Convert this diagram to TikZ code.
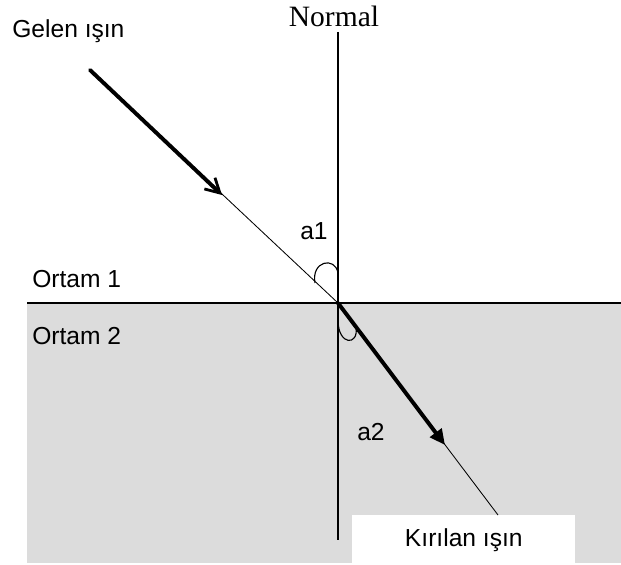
\documentclass[tikz,border=0pt]{standalone}
\usepackage{fontspec}
\setmainfont{Liberation Sans}
\newfontfamily\normfont{Liberation Serif}
\usepackage{xcolor}
\usepackage{tikz}
\usetikzlibrary{arrows.meta}
\definecolor{figline}{RGB}{0,0,0}
\definecolor{figmedium}{RGB}{220,220,220}
\tikzset{
  ax/.style    ={draw=figline, line width=1.1pt},
  rayt/.style  ={draw=figline, line width=0.6pt},
  rayb/.style  ={draw=figline, line width=2.8pt, line cap=round},
  ang/.style   ={draw=figline, line width=0.8pt},
  lab/.style   ={font=\fontsize{17.5}{20}\selectfont, inner sep=0pt},
  labn/.style  ={font=\normfont\fontsize{21}{24}\selectfont, inner sep=0pt},
  tipo/.style  ={-{Straight Barb[length=10pt,width=11pt,line width=2pt]}},
  tipf/.style  ={-{Triangle[length=11pt,width=10pt]}},
}
\begin{document}
\begin{tikzpicture}[x=0.025cm,y=-0.025cm]
  \useasboundingbox (0,0) rectangle (621,565);
  \fill[figmedium] (27,303) rectangle (621,563);
  \coordinate (O) at (338,303);
  \coordinate (src) at (90,70);
  \coordinate (tipin) at (222,195);
  \coordinate (tipout) at (445,445);
  \coordinate (rend) at (498,514);
  \coordinate (ntop) at (338,32);
  \coordinate (nbot) at (338,540);
  \draw[ax] (27,303) -- (621,303);
  \draw[ax] (ntop) -- (nbot);
  \node[lab, fill=white, anchor=north west, minimum width=5.575cm, minimum height=1.25cm]
    (kirilan) at (352,515) {Kırılan ışın};
  % rays
  \draw[rayt] (src) -- (O);
  \draw[rayb,tipo] (src) -- (tipin);
  \draw[rayt] (O) -- (kirilan.north -| rend);
  \draw[rayb,tipf] (O) -- (tipout);
  % angle marks
  \draw[ang] (315,283) .. controls (311,261) and (335,256) .. (O |- 0,273);
  \draw[ang] (O |- 0,320) .. controls (338,346) and (359,346) .. (356,327);
  \node[labn, anchor=base] (normal) at (334,27) {Normal};
  \node[lab, anchor=base west] (gelen) at (12,38) {Gelen ışın};
  \node[lab, anchor=base west] (a1) at (300,240) {a1};
  \node[lab, anchor=base west] (a2) at (357,440) {a2};
  \node[lab, anchor=base west] (ortam1) at (32,288) {Ortam 1};
  \node[lab, anchor=base west] (ortam2) at (32,345) {Ortam 2};
\end{tikzpicture}
\end{document}
